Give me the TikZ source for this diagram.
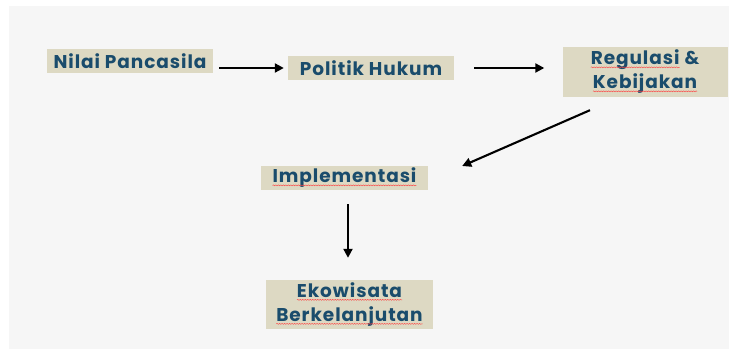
\documentclass[tikz,border=0pt]{standalone}
\usepackage{fontspec}
\setmainfont{Poppins}[LetterSpace=5]
\usetikzlibrary{arrows.meta,decorations.pathmorphing}
\definecolor{bgc}{HTML}{F6F6F6}
\definecolor{boxc}{HTML}{DDD9C3}
\definecolor{txtc}{HTML}{1A4C6C}
\newcommand\redwave[1]{\tikz[baseline=(w.base)]{\node[inner sep=0pt, outer sep=0pt, minimum width=0pt, minimum height=0pt, fill=none] (w) {#1};\draw[red!75, line width=0.4pt, decorate, decoration={snake, amplitude=0.5pt, segment length=2.5pt}] ([yshift=-2.4pt]w.base west) -- ([yshift=-2.4pt]w.base east);}}
\tikzset{
  box/.style={fill=boxc, text=txtc, font=\fontsize{18.5}{24}\selectfont\bfseries, inner sep=0pt, align=center},
  conn/.style={line width=2.1pt, -{Triangle[length=9pt,width=9pt]}}
}
\begin{document}
\begin{tikzpicture}[x=1pt,y=-1pt]
\useasboundingbox (0,0) rectangle (729,352);
\fill[bgc] (9,6) rectangle (729,349);
\node[box, minimum width=166pt, minimum height=24pt] (A) at (130,61) {Nilai Pancasila};
\node[box, minimum width=166pt, minimum height=24pt] (B) at (371,68) {Politik Hukum};
\node[box, minimum width=165pt, minimum height=50pt] (C) at (645,72) {\redwave{Regulasi} \&\\\redwave{Kebijakan}};
\node[box, minimum width=167pt, minimum height=24pt] (D) at (344.5,178) {\redwave{Implementasi}};
\node[box, minimum width=167pt, minimum height=49pt] (E) at (349.5,304.5) {\redwave{Ekowisata}\\\redwave{Berkelanjutan}};
\draw[conn] ([xshift=6pt]A.east |- B.west) -- ([xshift=-4pt]B.west);
\draw[conn] ([xshift=20pt]B.east) -- ([xshift=-18pt]C.west |- B.east);
\draw[conn] ([xshift=-55pt,yshift=-13pt]C.south) -- ([xshift=34pt,yshift=12pt]D.east);
\draw[conn] ([xshift=3.5pt,yshift=-14pt]D.south) -- ([xshift=-1.5pt,yshift=22pt]E.north);
\end{tikzpicture}
\end{document}
